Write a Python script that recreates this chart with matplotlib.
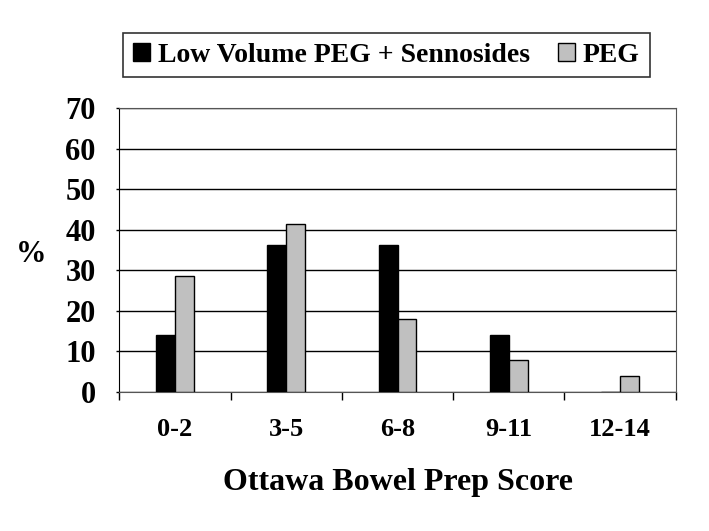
import matplotlib
matplotlib.use("Agg")
import matplotlib.pyplot as plt
import numpy as np

categories = ["0-2", "3-5", "6-8", "9-11", "12-14"]
low_volume = [14.0, 36.3, 36.3, 14.0, 0.0]
peg = [28.7, 41.5, 18.0, 7.8, 4.0]
yticks = [0, 10, 20, 30, 40, 50, 60, 70]

plt.rcParams['font.family'] = ['Liberation Serif', 'DejaVu Serif']
plt.rcParams['font.weight'] = 'bold'

fig = plt.figure(figsize=(7.09, 5.31), dpi=100)
ax = fig.add_axes([119.3/709, 1-392/531, (675.7-119.3)/709, (392-108.3)/531])

x = np.arange(len(categories))
w = 0.17
ax.bar(x - w/2, low_volume, w, color='black', edgecolor='black', linewidth=1,
       label='Low Volume PEG + Sennosides', zorder=3)
ax.bar(x + w/2, peg, w, color='#c0c0c0', edgecolor='black', linewidth=1,
       label='PEG', zorder=3)

ax.set_xlim(-0.5, len(categories) - 0.5)
ax.set_ylim(0, 70)
ax.set_yticks(yticks)
ax.set_yticklabels([str(t) for t in yticks], fontsize=22, fontweight='bold')
ax.yaxis.grid(True, color='black', linewidth=1, zorder=0)
ax.set_axisbelow(True)

ax.set_xticks(np.arange(len(categories) + 1) - 0.5)
ax.set_xticklabels([])
ax.set_xticks(x, minor=True)
ax.set_xticklabels(categories, minor=True, fontsize=19, fontweight='bold')
ax.tick_params(axis='x', which='major', length=6, width=1, direction='out')
ax.tick_params(axis='x', which='minor', length=0, pad=19)
ax.tick_params(axis='y', length=2, width=1, direction='out', pad=15)

for s in ['top', 'right']:
    ax.spines[s].set_color('#555555')
ax.spines['left'].set_color('black')
ax.spines['bottom'].set_color('#555555')

ax.set_xlabel('Ottawa Bowel Prep Score', fontsize=23, fontweight='bold', labelpad=19)
fig.text(31/709, 1-255/531, '%', fontsize=22, fontweight='bold', ha='center', va='center')

leg = ax.legend(loc='center', bbox_to_anchor=((123+650)/2/709, 1-55/531),
                bbox_transform=fig.transFigure, ncol=2, frameon=True,
                fancybox=False, edgecolor='black',
                prop={'weight': 'bold', 'size': 20},
                handlelength=0.6, handleheight=0.6, handletextpad=0.3,
                columnspacing=1.0, borderpad=0.35, borderaxespad=0)
leg.get_frame().set_linewidth(1.2)

fig.savefig('out.png', dpi=100)
